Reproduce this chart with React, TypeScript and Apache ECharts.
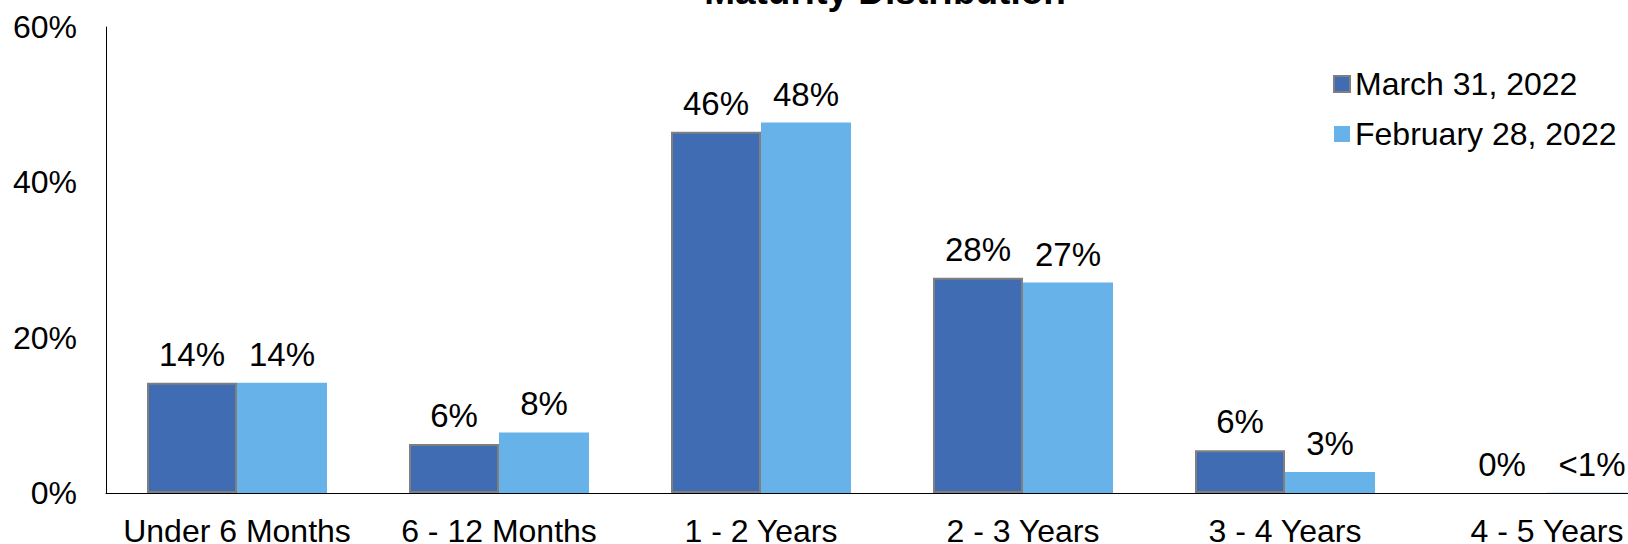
import React, { useEffect, useRef } from "react";
import * as echarts from "echarts";

const categories = ["Under 6 Months", "6 - 12 Months", "1 - 2 Years", "2 - 3 Years", "3 - 4 Years", "4 - 5 Years"];
const marchValues = [14.2, 6.3, 46.5, 27.7, 5.5, 0];
const febValues = [14.2, 7.8, 47.7, 27.1, 2.7, 0.02];
const marchLabels = ["14%", "6%", "46%", "28%", "6%", "0%"];
const febLabels = ["14%", "8%", "48%", "27%", "3%", "<1%"];
const yTicks = [0, 20, 40, 60];

const FONT = "'Liberation Sans', Arial, sans-serif";

export default function App() {
  const ref = useRef<HTMLDivElement>(null);

  useEffect(() => {
    document.body.style.margin = "0";
    const chart = echarts.init(ref.current!, null, { renderer: "svg" });
    const labelBase = {
      show: true,
      position: "top" as const,
      distance: 12,
      color: "#000",
      fontSize: 33,
      fontFamily: FONT,
    };
    chart.setOption({
      animation: false,
      backgroundColor: "#fff",
      title: {
        text: "Maturity Distribution",
        left: 885,
        top: -27,
        padding: 0,
        textAlign: "center",
        textStyle: { fontSize: 37, fontWeight: "bold", color: "#000", fontFamily: FONT },
      },
      legend: {
        orient: "vertical",
        left: 1333,
        top: 68,
        padding: 0,
        itemGap: 18,
        itemWidth: 16,
        itemHeight: 16,
        icon: "rect",
        textStyle: { fontSize: 32, color: "#000", fontFamily: FONT },
        data: ["March 31, 2022", "February 28, 2022"],
      },
      grid: {
        left: 106,
        right: -50,
        top: 27,
        bottom: 51,
        containLabel: false,
        outerBoundsMode: "none",
      },
      xAxis: {
        type: "category",
        data: categories,
        axisLine: { show: true, lineStyle: { color: "#000", width: 1 } },
        axisTick: { show: false },
        axisLabel: { interval: 0, margin: 22, color: "#000", fontSize: 32, fontFamily: FONT },
        splitLine: { show: false },
      },
      yAxis: {
        type: "value",
        min: yTicks[0],
        max: yTicks[yTicks.length - 1],
        interval: 20,
        axisLine: { show: true, lineStyle: { color: "#000", width: 1 } },
        axisTick: { show: false },
        splitLine: { show: false },
        axisLabel: {
          margin: 29,
          color: "#000",
          fontSize: 32,
          fontFamily: FONT,
          formatter: (v: number) => `${v}%`,
        },
      },
      series: [
        {
          name: "March 31, 2022",
          type: "bar",
          data: marchValues.map((v) => (v === 0 ? { value: v, itemStyle: { borderWidth: 0 } } : v)),
          barWidth: 90,
          barGap: "0%",
          itemStyle: { color: "#3F6CB3", borderColor: "#7F7F7F", borderWidth: 2 },
          label: { ...labelBase, formatter: (p: any) => marchLabels[p.dataIndex] },
        },
        {
          name: "February 28, 2022",
          type: "bar",
          data: febValues,
          barWidth: 90,
          barGap: "0%",
          itemStyle: { color: "#67B2E8" },
          label: { ...labelBase, formatter: (p: any) => febLabels[p.dataIndex] },
        },
      ],
    });
    return () => chart.dispose();
  }, []);

  return <div ref={ref} style={{ position: "absolute", left: 0, top: 0, width: 1628, height: 544 }} />;
}
